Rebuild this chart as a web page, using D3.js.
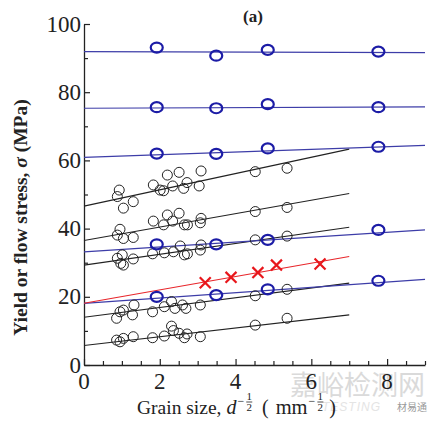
<!DOCTYPE html>
<html>
<head>
<meta charset="utf-8">
<script src="https://d3js.org/d3.v7.min.js"></script>
<style>
  body { margin: 0; background: #fff; }
</style>
</head>
<body>
<div class="chart"></div>
<script>
var w = 440, h = 427;
var mLeft = 84, mRight = 425, mTop = 24, mBottom = 365;
var serif = "'Liberation Serif', 'Times New Roman', 'DejaVu Serif', serif";

// blue circles: same grain sizes for each row
var blueX = [1.92, 3.49, 4.85, 7.77];
var blueRows = [
  [93.1, 90.7, 92.4, 91.9],
  [75.6, 75.3, 76.5, 75.6],
  [62.0, 61.9, 63.5, 64.0],
  [35.4, 35.4, 36.7, 39.6],
  [20.0, 20.5, 22.2, 24.7]
];
// blue fit lines, y at x = 0 and x = 9
var blueLines = [[91.9, 91.6], [75.3, 75.7], [60.9, 64.4], [33.2, 39.6], [18.1, 25.1]];

// black open circles, one group per fit line
var blackX = [
  [0.93, 0.88, 1.04, 1.30, 1.83, 2.01, 2.10, 2.20, 2.51, 2.34, 2.63, 2.72, 3.04, 3.09, 4.52, 5.36],
  [0.95, 0.88, 1.04, 1.30, 1.83, 2.10, 2.20, 2.51, 2.34, 2.65, 2.73, 3.09, 3.07, 4.52, 5.36],
  [0.88, 1.01, 0.97, 1.04, 1.30, 1.81, 2.12, 2.36, 2.54, 2.65, 2.73, 3.07, 3.09, 4.52, 5.36],
  [0.86, 0.95, 1.04, 1.28, 1.32, 1.81, 2.12, 2.31, 2.40, 2.60, 2.69, 3.07, 4.52, 5.36],
  [0.86, 0.95, 1.04, 1.30, 1.81, 2.12, 2.31, 2.36, 2.51, 2.65, 2.72, 3.07, 4.52, 5.36]
];
var blackY = [
  [51.3, 49.4, 46.0, 47.9, 52.8, 51.3, 51.1, 55.7, 56.5, 52.5, 51.8, 53.5, 52.5, 56.9, 56.7, 57.7],
  [39.8, 38.1, 37.1, 37.4, 42.2, 41.1, 44.0, 44.5, 42.2, 41.1, 41.1, 43.0, 41.7, 45.0, 46.2],
  [31.3, 32.3, 29.8, 29.3, 31.1, 32.6, 32.9, 33.2, 34.9, 32.3, 32.6, 33.7, 35.2, 36.7, 37.8],
  [13.7, 15.6, 16.1, 14.7, 17.6, 15.6, 17.1, 18.6, 16.6, 17.6, 16.6, 17.6, 20.3, 22.2],
  [7.3, 6.8, 7.8, 8.3, 8.0, 8.5, 11.4, 10.1, 9.3, 8.0, 9.1, 8.3, 11.7, 13.7]
];
// black fit lines, y at x = 0 and x = 7
var blackLines = [[46.6, 63.3], [36.5, 50.3], [29.3, 40.4], [14.0, 24.0], [5.7, 14.7]];

// red crosses and their fit, y at x = 0 and x = 7
var redX = [3.20, 3.88, 4.59, 5.08, 6.23];
var redY = [24.1, 25.7, 27.1, 29.3, 29.6];
var redLine = [18.1, 31.8];

var xTicks = [0, 2, 4, 6, 8];
var yTicks = [0, 20, 40, 60, 80, 100];

var svg = d3.select(".chart").append("svg")
  .attr("width", w).attr("height", h)
  .attr("font-family", serif);

var x = d3.scaleLinear().domain([0, 9]).range([mLeft, mRight]);
var y = d3.scaleLinear().domain([0, 100]).range([mBottom, mTop]);

// watermark (behind everything)
svg.append("text")
  .attr("x", 290).attr("y", 395)
  .attr("font-family", "'Noto Sans CJK SC'").attr("font-size", 27)
  .attr("fill", "#dadada")
  .text("嘉峪检测网");
svg.append("text")
  .attr("x", 322).attr("y", 411)
  .attr("font-family", "'Liberation Sans', sans-serif")
  .attr("font-size", 12).attr("font-style", "italic").attr("letter-spacing", 1)
  .attr("fill", "#e4e4e4")
  .text("TESTING");
svg.append("text")
  .attr("x", 397).attr("y", 411)
  .attr("font-family", "'Noto Sans CJK SC'").attr("font-size", 10)
  .attr("fill", "#9a9a9a")
  .text("材易通");

// axes: ticks point inwards, minor ticks every 0.5 / 10
var xAxis = d3.axisBottom(x).tickValues(d3.range(0, 9.01, 0.5))
  .tickSizeInner(-5).tickSizeOuter(0).tickFormat("");
var yAxis = d3.axisLeft(y).tickValues(d3.range(0, 100.1, 10))
  .tickSizeInner(-5).tickSizeOuter(0).tickFormat("");

var gx = svg.append("g").attr("transform", "translate(0," + mBottom + ")").call(xAxis);
var gy = svg.append("g").attr("transform", "translate(" + mLeft + ",0)").call(yAxis);
svg.selectAll(".domain").attr("stroke", "#222").attr("stroke-width", 1.3);
svg.selectAll(".tick line").attr("stroke", "#222").attr("stroke-width", 1.2);
gx.selectAll(".tick line").attr("y2", function(d) { return Math.round(d * 2) % 4 === 0 ? -6 : -4; });
gy.selectAll(".tick line").attr("x2", function(d) { return Math.round(d) % 20 === 0 ? 6 : 4; });

svg.selectAll(".xlab").data(xTicks).enter().append("text")
  .attr("x", function(d) { return x(d); })
  .attr("y", mBottom + 24)
  .attr("text-anchor", "middle")
  .attr("font-size", 23).attr("fill", "#222")
  .text(function(d) { return d; });

svg.selectAll(".ylab").data(yTicks).enter().append("text")
  .attr("x", mLeft - 3)
  .attr("y", function(d) { return y(d) + 7.5; })
  .attr("text-anchor", "end")
  .attr("font-size", 23).attr("fill", "#222")
  .text(function(d) { return d; });

// fit lines
var line = d3.line().x(function(d) { return x(d[0]); }).y(function(d) { return y(d[1]); });
var plot = svg.append("g");

blackLines.forEach(function(l) {
  plot.append("path").attr("d", line([[0, l[0]], [7, l[1]]]))
    .attr("stroke", "#222").attr("stroke-width", 1.1).attr("fill", "none");
});
blueLines.forEach(function(l) {
  plot.append("path").attr("d", line([[0, l[0]], [9, l[1]]]))
    .attr("stroke", "#3d3da8").attr("stroke-width", 1.2).attr("fill", "none");
});
plot.append("path").attr("d", line([[0, redLine[0]], [7, redLine[1]]]))
  .attr("stroke", "#e8262b").attr("stroke-width", 1.1).attr("fill", "none");

// black open circles
blackX.forEach(function(xs, i) {
  plot.selectAll(null).data(xs).enter().append("circle")
    .attr("cx", function(d) { return x(d); })
    .attr("cy", function(d, j) { return y(blackY[i][j]); })
    .attr("r", 5)
    .attr("fill", "none").attr("stroke", "#222").attr("stroke-width", 1);
});

// blue open circles
blueRows.forEach(function(row) {
  plot.selectAll(null).data(row).enter().append("ellipse")
    .attr("cx", function(d, j) { return x(blueX[j]); })
    .attr("cy", function(d) { return y(d); })
    .attr("rx", 6).attr("ry", 5)
    .attr("fill", "none").attr("stroke", "#1c1ca6").attr("stroke-width", 2.2);
});

// red crosses
plot.selectAll(".cross").data(redX).enter().append("path")
  .attr("transform", function(d, j) { return "translate(" + x(d) + "," + y(redY[j]) + ")"; })
  .attr("d", d3.symbol().type(d3.symbolX).size(80))
  .attr("fill", "none").attr("stroke", "#e8161b").attr("stroke-width", 2.2);

// labels
svg.append("text")
  .attr("x", 243).attr("y", 22)
  .attr("font-size", 17).attr("font-weight", "bold").attr("fill", "#222")
  .text("(a)");

var yl = svg.append("text")
  .attr("transform", "translate(27," + ((mTop + mBottom) / 2 + 23) + ") rotate(-90)")
  .attr("text-anchor", "middle")
  .attr("font-size", 19.5).attr("font-weight", "bold").attr("fill", "#222");
yl.append("tspan").text("Yield or flow stress, ");
yl.append("tspan").attr("font-style", "italic").text("σ");
yl.append("tspan").text(" (MPa)");

// x label laid out piece by piece
var by = 414;
function piece(px, str, size, italic, dy) {
  var t = svg.append("text").attr("x", px).attr("y", by + (dy || 0))
    .attr("font-size", size).attr("fill", "#222")
    .attr("font-style", italic ? "italic" : "normal").text(str);
  return px + t.node().getComputedTextLength();
}
function frac(cx) {
  svg.append("text").attr("x", cx).attr("y", by - 14).attr("font-size", 11)
    .attr("text-anchor", "middle").attr("fill", "#222").text("1");
  svg.append("path").attr("d", "M" + (cx - 3) + " " + (by - 12) + " h6")
    .attr("stroke", "#222").attr("stroke-width", 0.8);
  svg.append("text").attr("x", cx).attr("y", by - 3).attr("font-size", 11)
    .attr("text-anchor", "middle").attr("fill", "#222").text("2");
}
var e1 = piece(137, "Grain size,", 19.5);
e1 = piece(e1 + 5, "d", 20, true);
e1 = piece(e1 + 1, "−", 12, false, -9);
frac(e1 + 5);
var e2 = piece(262, "(", 20);
e2 = piece(e2 + 7, "mm", 20.5);
e2 = piece(e2 + 1, "−", 12, false, -9);
frac(e2 + 5);
piece(e2 + 14, ")", 20);
</script>
</body>
</html>
